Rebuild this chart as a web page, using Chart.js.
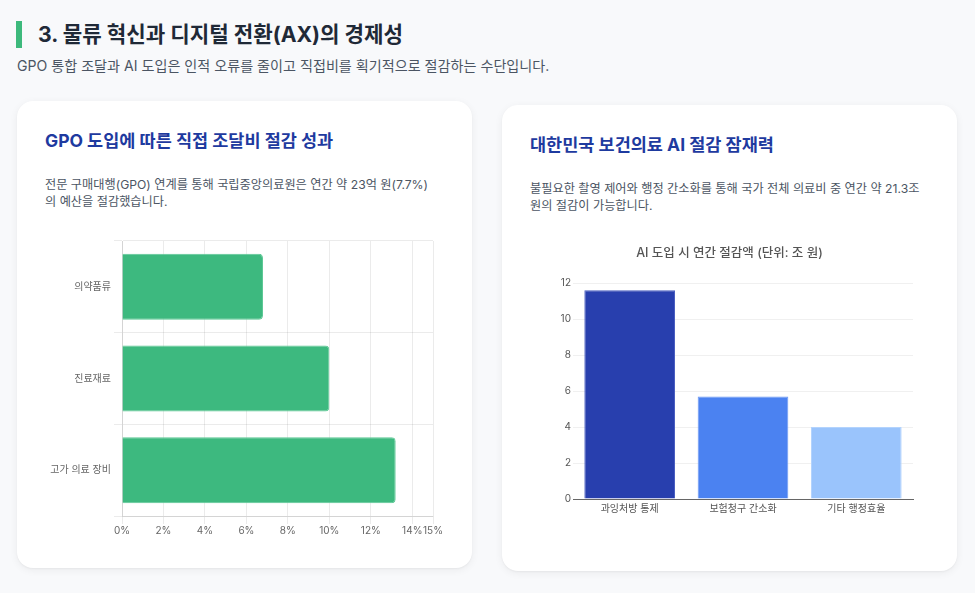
<!DOCTYPE html>
<html lang="ko">
<head>
<meta charset="utf-8">
<script src="https://cdn.jsdelivr.net/npm/chart.js@4.4.1/dist/chart.umd.min.js"></script>
<style>
  html, body { margin:0; padding:0; }
  body { width:975px; height:593px; background:#f8f9fb; font-family:'Inter','Noto Sans CJK KR',sans-serif; position:relative; overflow:hidden; }
  .bar { position:absolute; left:16px; top:21px; width:6px; height:27px; background:#3db97c; }
  h2 { position:absolute; left:38px; top:19px; margin:0; font-size:21.2px; line-height:30px; font-weight:700; color:#1f2937; white-space:nowrap; }
  .sub { position:absolute; left:17px; top:56px; margin:0; font-size:14.1px; line-height:20px; color:#4b5563; white-space:nowrap; }
  .card { position:absolute; width:455px; height:467px; background:#fff; border-radius:16px; box-shadow:0 2px 8px rgba(0,0,0,0.06), 0 1px 2px rgba(0,0,0,0.04); }
  .card h3 { position:absolute; left:28px; top:28px; margin:0; font-size:17.5px; line-height:24px; font-weight:700; color:#1e3a9f; white-space:nowrap; }
  .card p { position:absolute; left:28px; top:75px; margin:0; font-size:12.2px; line-height:17px; color:#4b5563; white-space:nowrap; }
  .cw { position:absolute; }
</style>
</head>
<body>
<div class="bar"></div>
<h2>3. 물류 혁신과 디지털 전환(AX)의 경제성</h2>
<div class="sub">GPO 통합 조달과 AI 도입은 인적 오류를 줄이고 직접비를 획기적으로 절감하는 수단입니다.</div>

<div class="card" style="left:17px; top:101px;">
  <h3>GPO 도입에 따른 직접 조달비 절감 성과</h3>
  <p>전문 구매대행(GPO) 연계를 통해 국립중앙의료원은 연간 약 23억 원(7.7%)<br>의 예산을 절감했습니다.</p>
  <div class="cw" style="left:28px; top:130.5px; width:399px; height:306px;"><canvas id="c1"></canvas></div>
</div>

<div class="card" style="left:502px; top:105px; height:466px;">
  <h3>대한민국 보건의료 AI 절감 잠재력</h3>
  <p>불필요한 촬영 제어와 행정 간소화를 통해 국가 전체 의료비 중 연간 약 21.3조<br>원의 절감이 가능합니다.</p>
  <div class="cw" style="left:28px; top:131px; width:399px; height:283px;"><canvas id="c2"></canvas></div>
</div>

<script>
const gpoCategories = ['의약품류', '진료재료', '고가 의료 장비'];
const gpoSavingsPct = [6.8, 10.0, 13.2];

const aiCategories = ['과잉처방 통제', '보험청구 간소화', '기타 행정효율'];
const aiSavingsTrillion = [11.6, 5.7, 4.0];

const aiTicks = [0, 2, 4, 6, 8, 10, 12];

Chart.defaults.font.family = "'Inter','Noto Sans CJK KR',sans-serif";
Chart.defaults.color = '#666';

new Chart(document.getElementById('c1'), {
  type: 'bar',
  data: {
    labels: gpoCategories,
    datasets: [{
      data: gpoSavingsPct,
      backgroundColor: '#3db97f',
      borderColor: '#5cc895',
      borderWidth: 1,
      borderRadius: 4
    }]
  },
  options: {
    indexAxis: 'y',
    responsive: true,
    maintainAspectRatio: false,
    animation: false,
    plugins: { legend: { display: false }, tooltip: { enabled: false } },
    scales: {
      x: {
        min: 0, max: 15,
        ticks: { stepSize: 2, font: { size: 10 }, padding: 1, callback: v => v + '%' },
        grid: { color: 'rgba(0,0,0,0.08)' }
      },
      y: {
        ticks: { font: { size: 10 } },
        grid: { color: 'rgba(0,0,0,0.08)' },
        afterFit: s => { s.width = 77; }
      }
    }
  }
});

new Chart(document.getElementById('c2'), {
  type: 'bar',
  data: {
    labels: aiCategories,
    datasets: [{
      data: aiSavingsTrillion,
      backgroundColor: ['#283fae', '#4b82f1', '#9ac4fc'],
      borderColor: ['#4a5ec0', '#6b98f4', '#b3d3fd'],
      borderWidth: 1,
      barPercentage: 0.8,
      categoryPercentage: 1.0
    }]
  },
  options: {
    responsive: true,
    maintainAspectRatio: false,
    animation: false,
    plugins: {
      legend: { display: false },
      tooltip: { enabled: false },
      title: {
        display: true,
        text: 'AI 도입 시 연간 절감액 (단위: 조 원)',
        color: '#555',
        font: { size: 12.5, weight: '500' },
        padding: { top: 10, bottom: 22 }
      }
    },
    scales: {
      x: {
        ticks: { font: { size: 10 }, color: '#555', padding: 4 },
        grid: { display: false, drawTicks: false },
        border: { color: '#666' }
      },
      y: {
        min: 0, max: 12,
        afterBuildTicks: s => { s.ticks = aiTicks.map(v => ({ value: v })); },
        ticks: { font: { size: 10 }, color: '#555', padding: 2 },
        grid: { color: 'rgba(0,0,0,0.06)', drawTicks: false },
        border: { display: false },
        afterFit: s => { s.width = 43; }
      },
      yPad: {
        position: 'right',
        display: true,
        ticks: { display: false },
        grid: { display: false, drawTicks: false },
        border: { display: false },
        afterFit: s => { s.width = 16; }
      }
    }
  }
});
</script>
</body>
</html>
